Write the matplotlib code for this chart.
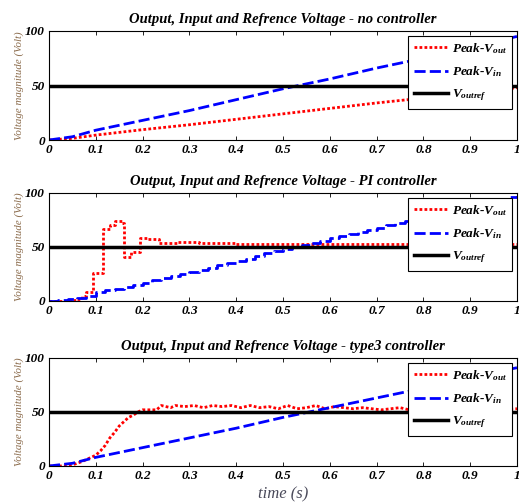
import matplotlib
matplotlib.use("Agg")
import matplotlib.pyplot as plt

plt.rcParams.update({"font.family": "Liberation Serif",
                     "mathtext.fontset": "custom",
                     "mathtext.it": "Liberation Serif:italic:bold",
                     "mathtext.rm": "Liberation Serif:bold",
                     "xtick.direction": "in", "ytick.direction": "in",
                     "xtick.top": True, "ytick.right": True})

# ---- no controller
nc_t = [0, 0.05, 0.1, 0.2, 0.3, 0.4, 0.5, 0.6, 0.7, 0.8, 0.9, 1.0]
nc_vin = [0, 3, 9, 18, 27, 37, 47, 56, 66, 75, 85, 95]
nc_vout = [0, 1.5, 4.5, 9.5, 14, 19, 24, 29, 34, 38.5, 43, 48]

# ---- PI controller (stepped)
pi_vin_t = [i * 0.02 for i in range(51)]
pi_vin = [0, 0.5, 1.5, 3, 5, 8.5, 10, 11.5, 13, 15, 17,
          19, 21, 23, 25, 27, 29, 31, 33, 35, 37, 39, 42, 44, 46, 48,
          50, 52, 54, 56, 58, 60, 62, 64, 66, 68, 70, 72, 74, 76, 78,
          80, 82, 84, 86, 88, 90, 92, 94, 96, 97]
pi_out_t = [0, 0.05, 0.06, 0.07, 0.08, 0.095, 0.115, 0.13, 0.14, 0.155,
            0.16, 0.175, 0.195, 0.21, 0.235, 0.275, 0.32, 0.4, 0.6, 1.0]
pi_vout = [0, 0.5, 2, 5, 8.5, 26, 67, 70, 74, 72,
           41, 45, 58, 57, 53.5, 55, 54, 53, 52.5, 52.5]

# ---- type3 controller
t3_t = [0, 0.05, 0.1, 0.2, 0.3, 0.4, 0.5, 0.6, 0.7, 0.8, 0.9, 1.0]
t3_vin = [0, 2.5, 8, 17, 26, 35, 45, 54, 63, 72, 82, 91]
t3_out_t = [0, 0.03, 0.05, 0.07, 0.09, 0.1, 0.11, 0.12, 0.13, 0.14, 0.15,
            0.16, 0.17, 0.18, 0.19, 0.2, 0.22, 0.23, 0.24, 0.26, 0.27,
            0.29, 0.31, 0.33, 0.35, 0.37, 0.39, 0.41, 0.43, 0.45, 0.47,
            0.49, 0.51, 0.53, 0.55, 0.57, 0.59, 0.61, 0.63, 0.65, 0.67,
            0.69, 0.71, 0.73, 0.75, 0.77, 0.79, 0.85, 0.9, 0.95, 1.0]
t3_vout = [0, 0, 1, 4, 8, 10, 14, 19, 26, 31, 37,
           41, 45, 47, 50, 52, 52, 52, 56, 54, 56,
           55, 56, 54, 56, 55, 56, 54, 56, 54, 55,
           53, 56, 53, 54, 56, 53, 55, 54, 53, 54,
           53, 52, 53, 54, 52, 52, 52, 52, 52, 53]

V_REF = 50
titles = ["Output, Input and Refrence Voltage - no controller",
          "Output, Input and Refrence Voltage - PI controller",
          "Output, Input and Refrence Voltage - type3 controller"]
xticks = [i / 10 for i in range(11)]
xticklabels = ["0"] + [f"{v:.1f}" for v in xticks[1:-1]] + ["1"]

fig = plt.figure(figsize=(5.19, 5.04), dpi=100)
positions = [[0.0944, 0.7222, 0.9017, 0.2163],
             [0.0944, 0.4028, 0.9017, 0.2143],
             [0.0944, 0.0754, 0.9017, 0.2143]]
data = [(nc_t, nc_vout, nc_t, nc_vin, "default"),
        (pi_out_t, pi_vout, pi_vin_t, pi_vin, "steps-post"),
        (t3_out_t, t3_vout, t3_t, t3_vin, "default")]

tick_font = {"family": "Liberation Serif", "weight": "bold",
             "style": "italic", "size": 9.5}
for pos, title, (to, vo, ti, vi, ds) in zip(positions, titles, data):
    ax = fig.add_axes(pos)
    ax.plot(to, vo, color="red", ls=(0, (1, 0.8)), lw=2, drawstyle=ds,
            label="Peak-$V_{out}$")
    ax.plot(ti, vi, color="blue", ls=(0, (4, 1.5)), lw=2, drawstyle=ds,
            label="Peak-$V_{in}$")
    ax.axhline(V_REF, color="black", lw=2.5, label="$V_{outref}$")
    ax.set_xlim(0, 1); ax.set_ylim(0, 100)
    ax.set_xticks(xticks); ax.set_xticklabels(xticklabels, fontdict=tick_font)
    ax.set_yticks([0, 50, 100])
    ax.set_yticklabels(["0", "50", "100"], fontdict=tick_font)
    ax.tick_params(length=3, width=0.6, pad=3)
    for s in ax.spines.values():
        s.set_linewidth(0.8)
    ax.set_title(title, fontsize=10.5, fontweight="bold", style="italic",
                 pad=6)
    ax.set_ylabel("Voltage magnitude (Volt)", fontsize=7.8, style="italic",
                  color="#8a6a4a", labelpad=1)
    leg = ax.legend(loc="upper right", fancybox=False, edgecolor="black",
                    framealpha=1, handlelength=2.6, borderaxespad=0.35,
                    labelspacing=0.65, handletextpad=0.3, borderpad=0.4,
                    prop={"family": "Liberation Serif", "weight": "bold",
                          "style": "italic", "size": 9.5})
    leg.get_frame().set_linewidth(0.8)

fig.text(0.545, 0.012, "time (s)", ha="center", fontsize=12, style="italic",
         color="#4a4a5a")
fig.savefig("out.png", dpi=100)
